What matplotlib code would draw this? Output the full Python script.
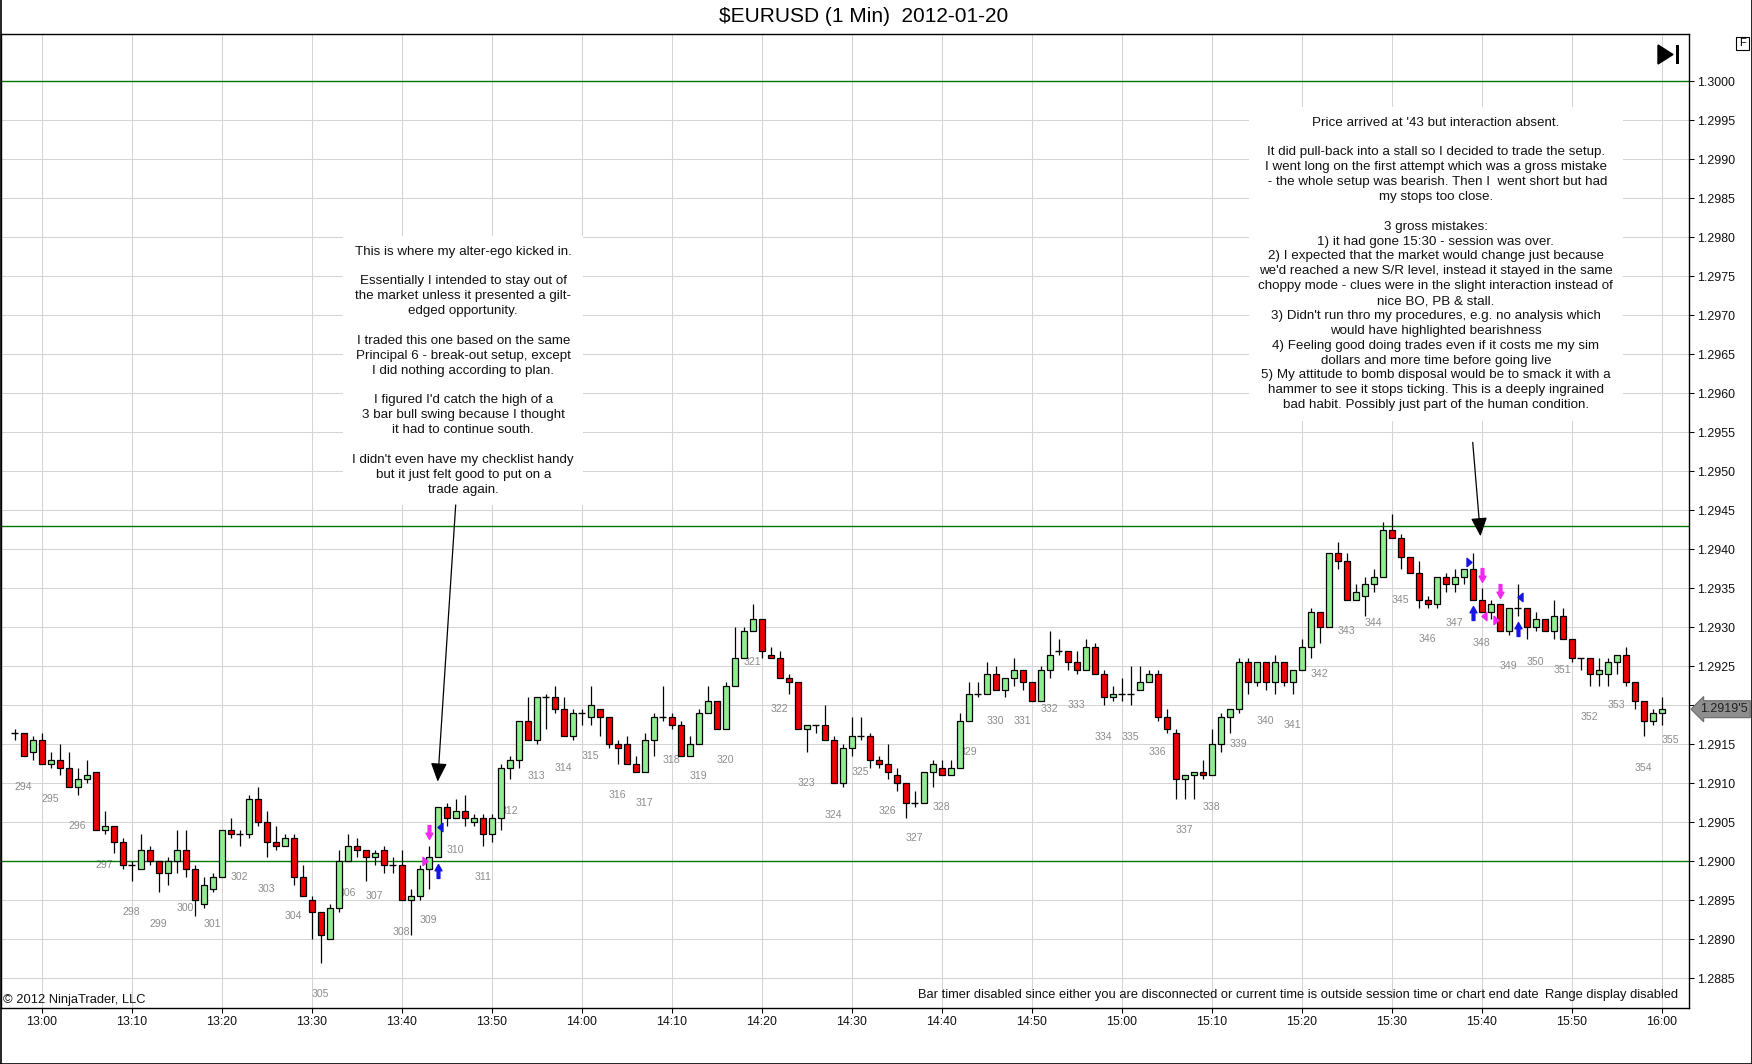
import numpy as np
import pandas as pd
import matplotlib
matplotlib.use("Agg")
import matplotlib.pyplot as plt
from matplotlib.path import Path
from matplotlib.patches import Rectangle, Polygon
from matplotlib.lines import Line2D
from matplotlib import transforms

plt.rcParams['font.family'] = ['Liberation Sans', 'DejaVu Sans']

# ---------------- data ----------------
TITLE = "$EURUSD (1 Min)  2012-01-20"
first_bar, last_bar = "12:57", "16:00"

opens = [
    1.29165, 1.29165, 1.2914, 1.29155, 1.29125, 1.2913, 1.2912, 1.29095, 1.29105, 1.29115,
    1.2904, 1.29045, 1.29025, 1.28995, 1.2899, 1.29015, 1.2900, 1.28985, 1.2900, 1.29015,
    1.2899, 1.28945, 1.28965, 1.2898, 1.2904, 1.29035, 1.29035, 1.2908, 1.2905, 1.29025,
    1.2902, 1.2903, 1.2898, 1.2895, 1.28935, 1.2890, 1.2894, 1.2900, 1.2902, 1.29015,
    1.29005, 1.29015, 1.28995, 1.28995, 1.2895, 1.28955, 1.2899, 1.29005, 1.2907, 1.29055,
    1.29065, 1.2905, 1.29055, 1.29035, 1.29055, 1.2912, 1.2913, 1.2918, 1.29155, 1.2921,
    1.2921, 1.29195, 1.2916, 1.2919, 1.29185, 1.29195, 1.29185, 1.2915, 1.2915, 1.29125,
    1.29115, 1.29155, 1.29185, 1.29185, 1.29175, 1.29135, 1.2915, 1.2919, 1.29205, 1.2917,
    1.29225, 1.2926, 1.29295, 1.2931, 1.29265, 1.2926, 1.29235, 1.2923, 1.2917, 1.29175,
    1.29175, 1.29155, 1.291, 1.29145, 1.2916, 1.2916, 1.2913, 1.29125, 1.2911, 1.291,
    1.29075, 1.29075, 1.29115, 1.2912, 1.2911, 1.2912, 1.2918, 1.29215, 1.29215, 1.2924,
    1.2922, 1.29235, 1.29245, 1.2923, 1.29205, 1.29245, 1.2927, 1.2927, 1.29255, 1.29245,
    1.29275, 1.2924, 1.2921, 1.29215, 1.29215, 1.2922, 1.2923, 1.2924, 1.29185, 1.29165,
    1.29105, 1.2911, 1.29115, 1.2911, 1.2915, 1.29185, 1.29195, 1.29255, 1.2923, 1.29255,
    1.2923, 1.29255, 1.2923, 1.29245, 1.29275, 1.2932, 1.293, 1.29395, 1.29385, 1.29335,
    1.2934, 1.29355, 1.29365, 1.29425, 1.29415, 1.2939, 1.2937, 1.29335, 1.2933, 1.29365,
    1.29355, 1.29365, 1.29375, 1.29335, 1.2932, 1.2933, 1.29295, 1.29325, 1.29325, 1.293,
    1.2931, 1.29295, 1.29315, 1.29285, 1.2926, 1.2926, 1.2924, 1.2924, 1.29255, 1.29265,
    1.2923, 1.29205, 1.2918, 1.2919,
]
highs = [
    1.2917, 1.29165, 1.2916, 1.29165, 1.2914, 1.2915, 1.2914, 1.2912, 1.2913, 1.29115,
    1.29065, 1.29045, 1.2903, 1.2900, 1.29035, 1.2902, 1.2900, 1.29005, 1.2904, 1.2904,
    1.28995, 1.2898, 1.28985, 1.2904, 1.29055, 1.2904, 1.29085, 1.29095, 1.29065, 1.29045,
    1.29035, 1.29035, 1.28995, 1.28955, 1.28935, 1.28945, 1.29015, 1.29035, 1.2903, 1.29015,
    1.29015, 1.2902, 1.29005, 1.29015, 1.28965, 1.28995, 1.2902, 1.2907, 1.29075, 1.2908,
    1.29085, 1.2906, 1.2906, 1.2906, 1.29125, 1.29135, 1.2918, 1.2921, 1.2921, 1.29215,
    1.29225, 1.2921, 1.29195, 1.29195, 1.29225, 1.29195, 1.29185, 1.29155, 1.2916, 1.29135,
    1.29165, 1.2919, 1.29225, 1.2919, 1.2918, 1.2916, 1.29195, 1.29225, 1.29205, 1.2923,
    1.293, 1.293, 1.2933, 1.2931, 1.29275, 1.2927, 1.2924, 1.2923, 1.29175, 1.29175,
    1.292, 1.2916, 1.2915, 1.29185, 1.29185, 1.29165, 1.29135, 1.2915, 1.2912, 1.291,
    1.2909, 1.29115, 1.2913, 1.2913, 1.2913, 1.2919, 1.2923, 1.2923, 1.29255, 1.2925,
    1.29235, 1.2926, 1.29245, 1.2923, 1.2925, 1.29295, 1.29285, 1.2927, 1.2927, 1.29285,
    1.2928, 1.29245, 1.29225, 1.29235, 1.2925, 1.2925, 1.29245, 1.29245, 1.29195, 1.2917,
    1.2911, 1.29115, 1.2913, 1.2917, 1.2919, 1.29195, 1.2926, 1.2926, 1.29255, 1.29255,
    1.29265, 1.29255, 1.29245, 1.29285, 1.29325, 1.2932, 1.29395, 1.2941, 1.29395, 1.29355,
    1.29365, 1.29375, 1.29435, 1.29445, 1.2942, 1.2939, 1.29385, 1.2934, 1.29365, 1.2937,
    1.29375, 1.29375, 1.29395, 1.2935, 1.29335, 1.2933, 1.29325, 1.29355, 1.29325, 1.2932,
    1.2931, 1.29335, 1.29325, 1.29285, 1.2926, 1.2926, 1.2926, 1.2926, 1.29265, 1.29275,
    1.2923, 1.29205, 1.29195, 1.2921,
]
lows = [
    1.29155, 1.29135, 1.2913, 1.29125, 1.2912, 1.2911, 1.29095, 1.29085, 1.291, 1.2904,
    1.29035, 1.2901, 1.2899, 1.28975, 1.2899, 1.28995, 1.2896, 1.2897, 1.28985, 1.2898,
    1.2893, 1.2894, 1.2896, 1.2898, 1.2903, 1.2902, 1.2903, 1.29045, 1.29005, 1.29015,
    1.2902, 1.2897, 1.28955, 1.289, 1.2887, 1.289, 1.28935, 1.2900, 1.29005, 1.28975,
    1.28995, 1.28985, 1.28985, 1.2895, 1.28905, 1.2895, 1.28965, 1.29005, 1.29045, 1.29055,
    1.29045, 1.29045, 1.2902, 1.29025, 1.2904, 1.29105, 1.2912, 1.29155, 1.2915, 1.2917,
    1.2919, 1.2916, 1.29155, 1.29175, 1.29175, 1.2916, 1.29145, 1.29125, 1.29125, 1.29115,
    1.29115, 1.29135, 1.2918, 1.2917, 1.29135, 1.29135, 1.2915, 1.2919, 1.2917, 1.2917,
    1.29225, 1.2926, 1.29295, 1.2926, 1.2926, 1.29235, 1.29215, 1.2917, 1.2914, 1.29165,
    1.29155, 1.291, 1.29095, 1.29135, 1.29155, 1.2912, 1.2912, 1.29105, 1.2909, 1.29055,
    1.2907, 1.29075, 1.29095, 1.2911, 1.2911, 1.2912, 1.2918, 1.2921, 1.29215, 1.2922,
    1.2921, 1.29225, 1.2922, 1.29205, 1.29205, 1.29235, 1.29265, 1.29245, 1.2924, 1.29245,
    1.2924, 1.292, 1.29205, 1.29205, 1.292, 1.2922, 1.2923, 1.2918, 1.29165, 1.2908,
    1.2908, 1.2908, 1.29105, 1.2911, 1.2914, 1.29165, 1.2919, 1.29215, 1.29225, 1.2922,
    1.29215, 1.29225, 1.29215, 1.29245, 1.2926, 1.2928, 1.293, 1.29375, 1.29335, 1.29335,
    1.29315, 1.29345, 1.29365, 1.29415, 1.29375, 1.2937, 1.29325, 1.29325, 1.29325, 1.29345,
    1.29345, 1.29355, 1.29335, 1.2932, 1.2931, 1.29295, 1.2929, 1.29315, 1.29285, 1.29295,
    1.29295, 1.29285, 1.29285, 1.29255, 1.29245, 1.29225, 1.29225, 1.29225, 1.2924, 1.29225,
    1.29195, 1.2916, 1.29175, 1.29175,
]
closes = [
    1.29165, 1.29135, 1.29155, 1.29125, 1.2913, 1.2912, 1.29095, 1.29105, 1.2911, 1.2904,
    1.29045, 1.29025, 1.28995, 1.28995, 1.29015, 1.2900, 1.28985, 1.2900, 1.29015, 1.2899,
    1.2895, 1.2897, 1.2898, 1.2904, 1.29035, 1.29035, 1.2908, 1.2905, 1.29025, 1.2902,
    1.2903, 1.2898, 1.28955, 1.28935, 1.28905, 1.2894, 1.2900, 1.2902, 1.29015, 1.29005,
    1.2901, 1.28995, 1.28995, 1.2895, 1.28955, 1.2899, 1.29005, 1.2907, 1.29055, 1.29065,
    1.29055, 1.29055, 1.29035, 1.29055, 1.2912, 1.2913, 1.2918, 1.29155, 1.2921, 1.2921,
    1.29195, 1.2916, 1.2919, 1.2919, 1.2920, 1.29185, 1.2915, 1.29145, 1.29125, 1.29115,
    1.29155, 1.29185, 1.29185, 1.29175, 1.29135, 1.2915, 1.2919, 1.29205, 1.2917, 1.29225,
    1.2926, 1.29295, 1.2931, 1.2927, 1.2926, 1.29235, 1.2923, 1.2917, 1.29175, 1.29175,
    1.29155, 1.291, 1.29145, 1.2916, 1.2916, 1.2913, 1.29125, 1.29115, 1.291, 1.29075,
    1.29075, 1.29115, 1.29125, 1.2911, 1.2912, 1.2918, 1.29215, 1.29215, 1.2924, 1.2922,
    1.29235, 1.29245, 1.2923, 1.29205, 1.29245, 1.29265, 1.2927, 1.29255, 1.29245, 1.29275,
    1.2924, 1.2921, 1.29215, 1.29215, 1.29215, 1.2923, 1.2924, 1.29185, 1.2917, 1.29105,
    1.2911, 1.29115, 1.2911, 1.2915, 1.29185, 1.29195, 1.29255, 1.2923, 1.29255, 1.2923,
    1.29255, 1.2923, 1.29245, 1.29275, 1.2932, 1.2930, 1.29395, 1.29385, 1.29335, 1.29345,
    1.29355, 1.29365, 1.29425, 1.29415, 1.2939, 1.2937, 1.29335, 1.2933, 1.29365, 1.29355,
    1.29365, 1.29375, 1.29335, 1.2932, 1.2933, 1.29295, 1.29325, 1.29325, 1.2930, 1.2931,
    1.29295, 1.29315, 1.29285, 1.2926, 1.2926, 1.2924, 1.29245, 1.29255, 1.29265, 1.2923,
    1.29205, 1.2918, 1.2919, 1.29195,
]

x_tick_labels = ["13:00", "13:10", "13:20", "13:30", "13:40", "13:50", "14:00",
                 "14:10", "14:20", "14:30", "14:40", "14:50", "15:00", "15:10",
                 "15:20", "15:30", "15:40", "15:50", "16:00"]
y_ticks = [1.2885, 1.2890, 1.2895, 1.2900, 1.2905, 1.2910, 1.2915, 1.2920,
           1.2925, 1.2930, 1.2935, 1.2940, 1.2945, 1.2950, 1.2955, 1.2960,
           1.2965, 1.2970, 1.2975, 1.2980, 1.2985, 1.2990, 1.2995, 1.3000]
level_lines = [1.3000, 1.2943, 1.2900]

count_numbers = list(range(294, 356))
count_first_time = "12:58"
count_step = 3

buy_arrow_times = ["13:44", "15:39", "15:44"]
sell_arrow_times = ["13:43", "15:40", "15:42"]
fill_times = ["13:43", "13:44", "15:39", "15:40", "15:42", "15:44"]
fill_prices = [1.29000, 1.29044, 1.29384, 1.29314, 1.29309, 1.29339]
fill_sides = ["sell", "buy", "buy", "sell", "sell", "buy"]
fill_kinds = ["entry", "exit", "entry", "exit", "entry", "exit"]

note_left = ("This is where my alter-ego kicked in.\n\n"
             "Essentially I intended to stay out of\n"
             "the market unless it presented a gilt-\n"
             "edged opportunity.\n\n"
             "I traded this one based on the same\n"
             "Principal 6 - break-out setup, except\n"
             "I did nothing according to plan.\n\n"
             "I figured I'd catch the high of a\n"
             "3 bar bull swing because I thought\n"
             "it had to continue south.\n\n"
             "I didn't even have my checklist handy\n"
             "but it just felt good to put on a\n"
             "trade again.")
note_right = ("Price arrived at '43 but interaction absent.\n\n"
              "It did pull-back into a stall so I decided to trade the setup.\n"
              "I went long on the first attempt which was a gross mistake\n"
              " - the whole setup was bearish. Then I  went short but had\n"
              "my stops too close.\n\n"
              "3 gross mistakes:\n"
              "1) it had gone 15:30 - session was over.\n"
              "2) I expected that the market would change just because\n"
              "we'd reached a new S/R level, instead it stayed in the same\n"
              "choppy mode - clues were in the slight interaction instead of\n"
              "nice BO, PB & stall.\n"
              "3) Didn't run thro my procedures, e.g. no analysis which\n"
              "would have highlighted bearishness\n"
              "4) Feeling good doing trades even if it costs me my sim\n"
              "dollars and more time before going live\n"
              "5) My attitude to bomb disposal would be to smack it with a\n"
              "hammer to see it stops ticking. This is a deeply ingrained\n"
              "bad habit. Possibly just part of the human condition.")
notes = [note_left, note_right]
note_anchors = [("13:46:50", 1.297895), ("15:34:54", 1.299549)]
arrow_from = [("13:46:00", 1.294568), ("15:39:00", 1.295371)]
arrow_to = [("13:44:00", 1.291021), ("15:39:52", 1.294167)]

copyright_text = "\u00a9 2012 NinjaTrader, LLC"
timer_text = ("Bar timer disabled since either you are disconnected or current "
              "time is outside session time or chart end date")
range_text = "Range display disabled"

# ---------------- figure ----------------
W, H = 1752, 1064
fig = plt.figure(figsize=(W / 100, H / 100), dpi=100)
fig.patch.set_facecolor("white")
ax = fig.add_axes([1 / W, 1 - 1008.3 / H, 1688 / W, 974 / H])

t0 = pd.Timestamp("2012-01-20 13:00")


def tmin(s):
    return (pd.Timestamp(f"2012-01-20 {s}") - t0) / pd.Timedelta(minutes=1)


bar_times = pd.date_range(f"2012-01-20 {first_bar}", f"2012-01-20 {last_bar}", freq="1min")
x = ((bar_times - t0) / pd.Timedelta(minutes=1)).to_numpy(dtype=float)
o = np.array(opens); h = np.array(highs); l = np.array(lows); c = np.array(closes)

# candles
ax.vlines(x, l, h, colors="black", lw=0.9, zorder=3)
up = c > o + 1e-9
dn = c < o - 1e-9
dj = ~(up | dn)
ax.bar(x[up], (c - o)[up], bottom=o[up], width=0.7, color="#90EE90",
       edgecolor="black", linewidth=0.9, zorder=4)
ax.bar(x[dn], (o - c)[dn], bottom=c[dn], width=0.7, color="#EE0000",
       edgecolor="black", linewidth=0.9, zorder=4)
ax.hlines(o[dj], x[dj] - 0.38, x[dj] + 0.38, colors="black", lw=1.0, zorder=4)

# level lines
for lv in level_lines:
    ax.axhline(lv, color="#007800", lw=1.0, zorder=2.5)

# bar count labels
for k, n in enumerate(count_numbers):
    tx = tmin(count_first_time) + k * count_step
    idx = np.where(np.isclose(x, tx))[0]
    anchor = l[idx[0]] if idx.size else c[-1]
    ax.annotate(str(n), (tx, anchor), xytext=(0, -22.5), textcoords="offset points",
                ha="center", va="center", fontsize=7.6, color="#8c8c8c",
                zorder=2, annotation_clip=False)

# signal arrows
up_arrow = Path([(0, 1), (-0.5, 0.1), (-0.2, 0.1), (-0.2, -1), (0.2, -1),
                 (0.2, 0.1), (0.5, 0.1), (0, 1)], closed=True)
dn_arrow = Path([(0, -1), (-0.5, -0.1), (-0.2, -0.1), (-0.2, 1), (0.2, 1),
                 (0.2, -0.1), (0.5, -0.1), (0, -1)], closed=True)
BUY_C, SELL_C = "#1414E6", "#F028F0"
below = transforms.offset_copy(ax.transData, fig=fig, x=0, y=-13.3, units="dots")
above = transforms.offset_copy(ax.transData, fig=fig, x=0, y=13.3, units="dots")
for s in buy_arrow_times:
    i = int(np.argmin(np.abs(x - tmin(s))))
    ax.plot(x[i], l[i], marker=up_arrow, markersize=10, color=BUY_C, mec=BUY_C,
            transform=below, zorder=6, clip_on=False)
for s in sell_arrow_times:
    i = int(np.argmin(np.abs(x - tmin(s))))
    ax.plot(x[i], h[i], marker=dn_arrow, markersize=10, color=SELL_C, mec=SELL_C,
            transform=above, zorder=6, clip_on=False)

tri_right = Path([(0.6, 0), (-0.6, 1), (-0.6, -1), (0.6, 0)], closed=True)
tri_left = Path([(-0.6, 0), (0.6, 1), (0.6, -1), (-0.6, 0)], closed=True)
left_of = transforms.offset_copy(ax.transData, fig=fig, x=-3.3, y=0, units="dots")
right_of = transforms.offset_copy(ax.transData, fig=fig, x=2.3, y=0, units="dots")
for s, p, side, kind in zip(fill_times, fill_prices, fill_sides, fill_kinds):
    col = BUY_C if side == "buy" else SELL_C
    if kind == "entry":
        ax.plot(tmin(s), p, marker=tri_right, markersize=6, color=col, mec=col,
                transform=left_of, zorder=6)
    else:
        ax.plot(tmin(s), p, marker=tri_left, markersize=6, color=col, mec=col,
                transform=right_of, zorder=6)

# notes
for txt, (ts, py) in zip(notes, note_anchors):
    ax.text(tmin(ts), py, txt, ha="center", va="top", multialignment="center",
            fontsize=9.6, linespacing=1.32, color="#111111", zorder=5,
            bbox=dict(boxstyle="square,pad=0.7", fc="white", ec="none"))
for (fs, fp), (ts, tp) in zip(arrow_from, arrow_to):
    ax.annotate("", xy=(tmin(ts), tp), xytext=(tmin(fs), fp),
                arrowprops=dict(arrowstyle="-|>,head_length=1.15,head_width=0.5",
                                mutation_scale=10, color="black", lw=0.9,
                                shrinkA=0, shrinkB=0), zorder=6)

# axes
ax.set_xlim(-4.52, 183.03)
ax.set_ylim(1.288115, 1.300603)
ax.set_xticks([tmin(s) for s in x_tick_labels])
ax.set_xticklabels(x_tick_labels)
last = c[-1]
ax.set_yticks(y_ticks)
ax.set_yticklabels(["" if abs(v - last) < 0.0002 else f"{v:.4f}" for v in y_ticks])
ax.yaxis.tick_right()
ax.grid(True, color="#d4d4d4", lw=0.75)
ax.set_axisbelow(True)
ax.tick_params(axis="both", direction="out", length=3.6, width=0.75,
               labelsize=8.9, color="black", pad=2.2, labelcolor="#111111")
for sp in ax.spines.values():
    sp.set_color("black")
    sp.set_linewidth(1.0)

# last price tag
tr = transforms.blended_transform_factory(ax.transAxes, ax.transData)
sv = f"{last:.5f}"
tag = sv[:-1] + "'" + sv[-1]
ax.text(1.0066, last, tag, transform=tr, ha="left", va="center", fontsize=8.9,
        color="#202020", clip_on=False, zorder=10,
        bbox=dict(boxstyle="larrow,pad=0.2", fc="#8e8e8e", ec="#6a6a6a", lw=0.8))

# figure texts
fig.text(864 / W, 1 - 16 / H, TITLE, ha="center", va="center", fontsize=15, color="black")
fig.text(3 / W, 1 - 1000.5 / H, copyright_text, ha="left", va="center", fontsize=9.25,
         color="#111111")
fig.text(1539 / W, 1 - 995 / H, timer_text, ha="right", va="center", fontsize=9.25,
         color="#111111")
fig.text(1678 / W, 1 - 995 / H, range_text, ha="right", va="center", fontsize=9.25,
         color="#111111")


def fpx(xp, yp):
    return (xp / W, 1 - yp / H)


# ">|" icon
fig.add_artist(Polygon([fpx(1658, 45), fpx(1658, 64), fpx(1673, 54.5)], closed=True,
                       transform=fig.transFigure, fc="black", ec="black"))
fig.add_artist(Rectangle(fpx(1676, 64), 3 / W, 19 / H, transform=fig.transFigure,
                         fc="black", ec="none"))
# "F" box
fig.add_artist(Rectangle(fpx(1736, 50), 13 / W, 13 / H, transform=fig.transFigure,
                         fc="white", ec="black", lw=0.8))
fig.text(1742.5 / W, 1 - 43.5 / H, "F", ha="center", va="center", fontsize=8, color="black")

# outer frame (left, bottom, right)
for (xa, ya, xb, yb) in [(0.5, 0, 0.5, 1064), (0, 1063.5, 1752, 1063.5),
                         (1751.5, 0, 1751.5, 1064)]:
    fig.add_artist(Line2D([xa / W, xb / W], [1 - ya / H, 1 - yb / H],
                          transform=fig.transFigure, color="black", lw=1.2))

fig.savefig("out.png", dpi=100, facecolor="white")
